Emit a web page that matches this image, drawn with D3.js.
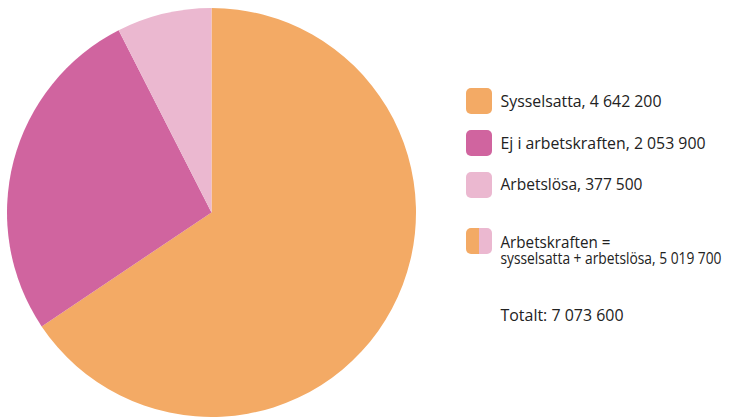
<!DOCTYPE html>
<html lang="sv">
<head>
<meta charset="utf-8">
<title>Befolkning efter arbetskraftstillhörighet</title>
<script src="https://d3js.org/d3.v7.min.js"></script>
<style>
  html, body { margin: 0; padding: 0; background: #fff; }
  svg text { font-family: "Open Sans", "Noto Sans", sans-serif; font-size: 16.5px; fill: #222; }
</style>
</head>
<body>
<div id="chart"></div>
<script>
// data
const categories = ["Sysselsatta", "Ej i arbetskraften", "Arbetslösa"];
const values = [4642200, 2053900, 377500];
// slice sizes as drawn in the picture (percent of the circle)
const sliceShares = [65.6, 26.9, 7.5];
const colors = ["#f3aa65", "#d0649f", "#ebb8d0"];
const workforceLabel = ["Arbetskraften =", "sysselsatta + arbetslösa, 5 019 700"];
const totalLabel = "Totalt: 7 073 600";

const width = 752, height = 418;
const cx = 211.5, cy = 212.5, radius = 204.5;

const fmt = v => d3.format(",")(v).replace(/,/g, " ");

const svg = d3.select("#chart").append("svg")
    .attr("width", width)
    .attr("height", height);

const pie = d3.pie().sort(null).value(d => d);
const arc = d3.arc().innerRadius(0).outerRadius(radius);

svg.append("g")
    .attr("transform", `translate(${cx},${cy})`)
    .selectAll("path")
    .data(pie(sliceShares))
    .join("path")
    .attr("fill", (d, i) => colors[i])
    .attr("d", arc);

// legend swatches
const sw = 26, swX = 466;
const swY = [88, 130, 172];

svg.append("g").selectAll("rect")
    .data(categories)
    .join("rect")
    .attr("x", swX).attr("y", (d, i) => swY[i])
    .attr("width", sw).attr("height", sw)
    .attr("rx", 5)
    .attr("fill", (d, i) => colors[i]);

// arbetskraften swatch: half orange, half light pink
svg.append("clipPath").attr("id", "swclip")
  .append("rect").attr("x", swX).attr("y", 228)
    .attr("width", sw).attr("height", sw).attr("rx", 5);
svg.append("g").attr("clip-path", "url(#swclip)")
  .selectAll("rect")
  .data([colors[0], colors[2]])
  .join("rect")
    .attr("x", (d, i) => swX + i * 13).attr("y", 228)
    .attr("width", 13).attr("height", sw)
    .attr("fill", d => d);

// legend texts; the original face is condensed, so each line is fitted to its width
const lines = categories.map((d, i) => `${d}, ${fmt(values[i])}`)
    .concat([workforceLabel[0], workforceLabel[1], totalLabel]);
const lineY = [107, 148.5, 190, 248, 264, 320.5];
const lineW = [161, 205, 142, 110, 221, 123];

svg.append("g").selectAll("text")
    .data(lines)
    .join("text")
    .attr("x", 500.5)
    .attr("y", (d, i) => lineY[i])
    .attr("textLength", (d, i) => lineW[i])
    .attr("lengthAdjust", "spacingAndGlyphs")
    .text(d => d);
</script>
</body>
</html>
